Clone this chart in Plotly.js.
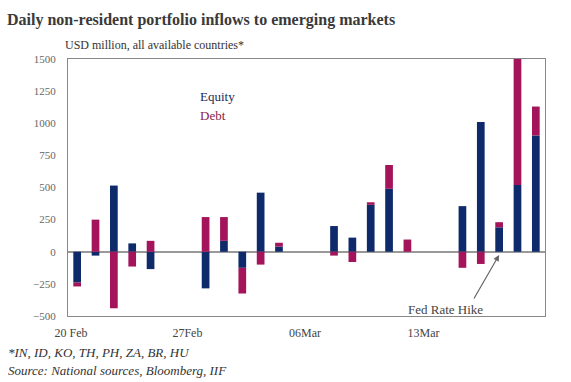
<!DOCTYPE html>
<html>
<head>
<meta charset="utf-8">
<script src="https://cdn.plot.ly/plotly-3.0.1.min.js"></script>
<style>
html,body{margin:0;padding:0;background:#fff;}
#chart{width:571px;height:382px;}
</style>
</head>
<body>
<div id="chart"></div>
<script>
var dates = ["2017-02-20","2017-02-21","2017-02-22","2017-02-23","2017-02-24",
             "2017-02-27","2017-02-28","2017-03-01","2017-03-02","2017-03-03",
             "2017-03-06","2017-03-07","2017-03-08","2017-03-09","2017-03-10",
             "2017-03-13","2017-03-14","2017-03-15","2017-03-16","2017-03-17"];
var equity = [-240, -30, 515, 65, -135, -285, 85, -125, 460, 40, 200, 110, 365, 490, 0, 355, 1010, 190, 520, 905];
var debt   = [-30, 250, -440, -115, 85, 270, 185, -200, -100, 30, -30, -80, 20, 185, 95, -125, -95, 40, 980, 225];
var xTickVals = ["2017-02-19 16:00","2017-02-26 00:15","2017-03-04 10:00","2017-03-10 21:00"];
var xTickText = ["20 Feb","27Feb","06Mar","13Mar"];
var yTickVals = [-500,-250,0,250,500,750,1000,1250,1500];

var navy = "#0e2a6b", crimson = "#a3145a";
var serif = "Liberation Serif, DejaVu Serif, serif";

var traces = [
  {type:"bar", name:"Equity", x:dates, y:equity, marker:{color:navy}, showlegend:false, hoverinfo:"x+y+name"},
  {type:"bar", name:"Debt", x:dates, y:debt, marker:{color:crimson}, showlegend:false, hoverinfo:"x+y+name"}
];

var layout = {
  width:571, height:382,
  paper_bgcolor:"#fff", plot_bgcolor:"#fff",
  margin:{l:68, r:26, t:59, b:66},
  barmode:"relative", bargap:0.58,
  font:{family:serif, color:"#444"},
  title:{text:"<b>Daily non-resident portfolio inflows to emerging markets</b>",
         x:7/571, xanchor:"left", xref:"container",
         y:1-19/382, yanchor:"middle", yref:"container",
         font:{family:serif, size:16, color:"#3a3a3a"}},
  xaxis:{type:"date", range:["2017-02-19 12:00","2017-03-17 12:00"],
         tickmode:"array", tickvals:xTickVals, ticktext:xTickText,
         showgrid:false, zeroline:false, showline:true, mirror:true, linecolor:"#888", linewidth:1,
         ticks:"", ticklabelstandoff:6, tickfont:{family:serif, size:12, color:"#444"}},
  yaxis:{range:[-500,1500], tickmode:"array", tickvals:yTickVals,
         showgrid:false, zeroline:true, zerolinecolor:"#999", zerolinewidth:1.5,
         showline:true, mirror:true, linecolor:"#888", linewidth:1,
         ticks:"", ticklabelstandoff:9, tickfont:{family:serif, size:11, color:"#666"}},
  annotations:[
    {text:"USD million, all available countries*", xref:"paper", yref:"paper",
     x:(63-68)/477, y:(316-45)/257, xanchor:"left", yanchor:"middle", showarrow:false,
     font:{family:serif, size:12, color:"#333"}},
    {text:"Equity", xref:"paper", yref:"paper", x:(198-68)/477, y:(316-96)/257,
     xanchor:"left", yanchor:"middle", showarrow:false, font:{family:serif, size:13, color:"#1a2a5c"}},
    {text:"Debt", xref:"paper", yref:"paper", x:(198-68)/477, y:(316-115)/257,
     xanchor:"left", yanchor:"middle", showarrow:false, font:{family:serif, size:13, color:"#8c1a4c"}},
    {text:"", x:"2017-03-15", y:-25, xref:"x", yref:"y", showarrow:true,
     ax:-26, ay:45, arrowhead:2, arrowsize:1, arrowwidth:1.2, arrowcolor:"#666"},
    {text:"Fed Rate Hike", xref:"paper", yref:"paper", x:(445-68)/477, y:(316-309)/257,
     xanchor:"center", yanchor:"middle", showarrow:false, font:{family:serif, size:13, color:"#444"}},
    {text:"<i>*IN, ID, KO, TH, PH, ZA, BR, HU</i>", xref:"paper", yref:"paper",
     x:(6-68)/477, y:(316-352)/257, xanchor:"left", yanchor:"middle", showarrow:false,
     font:{family:serif, size:13, color:"#333"}},
    {text:"<i>Source: National sources, Bloomberg, IIF</i>", xref:"paper", yref:"paper",
     x:(6-68)/477, y:(316-370)/257, xanchor:"left", yanchor:"middle", showarrow:false,
     font:{family:serif, size:13, color:"#333"}}
  ]
};

Plotly.newPlot("chart", traces, layout, {displayModeBar:false, staticPlot:true});
</script>
</body>
</html>
